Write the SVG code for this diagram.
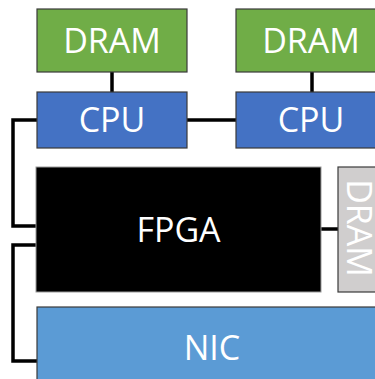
<svg xmlns="http://www.w3.org/2000/svg" width="375" height="379" viewBox="0 0 375 379">
<style>
.box{stroke:#3a3a3a;stroke-width:1.2}
.lbl{font-family:"Open Sans","Liberation Sans",sans-serif;font-size:34px;fill:#fff;text-anchor:middle}
.con{fill:none;stroke:#000;stroke-width:3.5}
</style>
<rect width="375" height="379" fill="#fff"/>
<g id="connectors">
<line class="con" x1="112" y1="72" x2="112" y2="92"/>
<line class="con" x1="312" y1="72" x2="312" y2="92"/>
<line class="con" x1="187" y1="120" x2="236" y2="120"/>
<line class="con" x1="321" y1="229" x2="338" y2="229"/>
<polyline class="con" points="37,120 13,120 13,226 36,226"/>
<polyline class="con" points="36,245 13,245 13,361 37,361"/>
</g>
<g id="dram1"><rect class="box" x="37" y="9" width="150" height="63" fill="#70AD47"/><text class="lbl" x="112" y="53">DRAM</text></g>
<g id="dram2"><rect class="box" x="236" y="9" width="152" height="63" fill="#70AD47"/><text class="lbl" x="311" y="53">DRAM</text></g>
<g id="cpu1"><rect class="box" x="37" y="92" width="150" height="56" fill="#4472C4"/><text class="lbl" x="112" y="132">CPU</text></g>
<g id="cpu2"><rect class="box" x="236" y="92" width="152" height="56" fill="#4472C4"/><text class="lbl" x="311" y="132">CPU</text></g>
<g id="fpga"><rect x="36" y="167" width="285" height="125" fill="#000" stroke="#9a9a9a" stroke-width="1"/><text class="lbl" x="178.5" y="242">FPGA</text></g>
<g id="dram3"><rect class="box" x="338" y="167" width="50" height="125" fill="#D0CECE"/><text class="lbl" transform="translate(347 228) rotate(90)" x="0" y="0">DRAM</text></g>
<g id="nic"><rect class="box" x="37" y="307" width="351" height="80" fill="#5B9BD5"/><text class="lbl" x="212" y="360">NIC</text></g>
</svg>
